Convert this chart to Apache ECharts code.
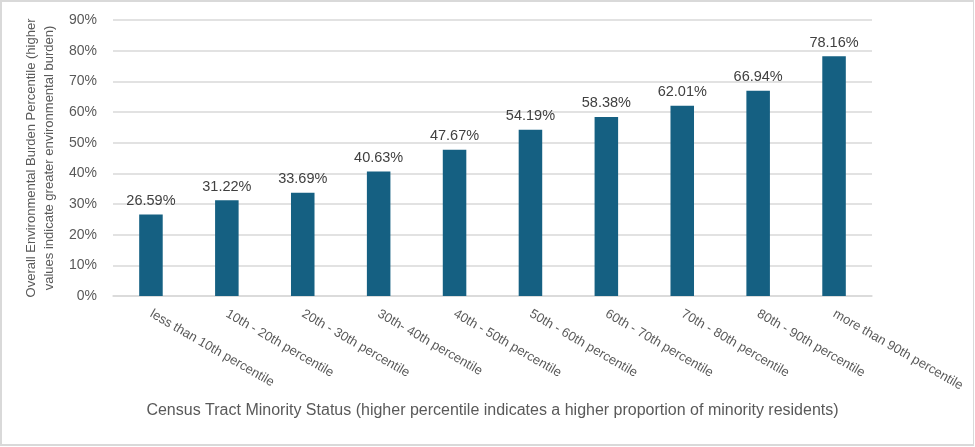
<!DOCTYPE html>
<html>
<head>
<meta charset="utf-8">
<script src="https://cdn.jsdelivr.net/npm/echarts@6/dist/echarts.min.js"></script>
<style>
html,body{margin:0;padding:0;background:#fff;}
#frame{position:absolute;left:0;top:0;width:974px;height:446px;box-sizing:border-box;border:2px solid #d9d9d9;border-right-width:1px;border-bottom-width:2px;}
#chart{position:absolute;left:0;top:0;width:975px;height:447px;}
</style>
</head>
<body>
<div id="chart"></div>
<div id="frame"></div>
<script>
const categories = ["less than 10th percentile","10th - 20th percentile","20th - 30th percentile","30th- 40th percentile","40th - 50th percentile","50th - 60th percentile","60th - 70th percentile","70th - 80th percentile","80th - 90th percentile","more than 90th percentile"];
const values = [26.59, 31.22, 33.69, 40.63, 47.67, 54.19, 58.38, 62.01, 66.94, 78.16];
const yTicks = [0, 10, 20, 30, 40, 50, 60, 70, 80, 90];
const xTitle = "Census Tract Minority Status (higher percentile indicates a higher proportion of minority residents)";
const yTitle = "Overall Environmental Burden Percentile (higher\nvalues indicate greater environmental burden)";

const font = "'Liberation Sans', Arial, sans-serif";
const chart = echarts.init(document.getElementById('chart'), null, {renderer:'canvas'});
chart.setOption({
  animation:false,
  textStyle:{fontFamily:font},
  grid:{left:113, right:103, top:20, bottom:151},
  xAxis:{
    type:'category',
    data:categories,
    axisLine:{lineStyle:{color:'#d9d9d9', width:1.5}},
    axisTick:{show:false},
    axisLabel:{rotate:-30, color:'#595959', fontSize:13, margin:17, fontFamily:font, interval:0},
    name:xTitle,
    nameLocation:'middle',
    nameGap:107,
    nameTextStyle:{color:'#595959', fontSize:16, fontFamily:font}
  },
  yAxis:{
    type:'value',
    min:yTicks[0],
    max:yTicks[yTicks.length-1],
    interval:10,
    splitLine:{lineStyle:{color:'#d9d9d9', width:1.5}},
    axisLine:{show:false},
    axisTick:{show:false},
    axisLabel:{color:'#595959', fontSize:14, margin:16, fontFamily:font, formatter:v=>v+'%'},
    name:yTitle,
    nameLocation:'middle',
    nameGap:52,
    nameRotate:90,
    nameTextStyle:{color:'#595959', fontSize:13, lineHeight:18, fontFamily:font, align:'center'}
  },
  series:[{
    type:'bar',
    data:values,
    barWidth:'31%',
    itemStyle:{color:'#156082'},
    label:{show:true, position:'top', distance:6, color:'#404040', fontSize:14.5, fontFamily:font, formatter:p=>p.value.toFixed(2)+'%'}
  }]
});
</script>
</body>
</html>
